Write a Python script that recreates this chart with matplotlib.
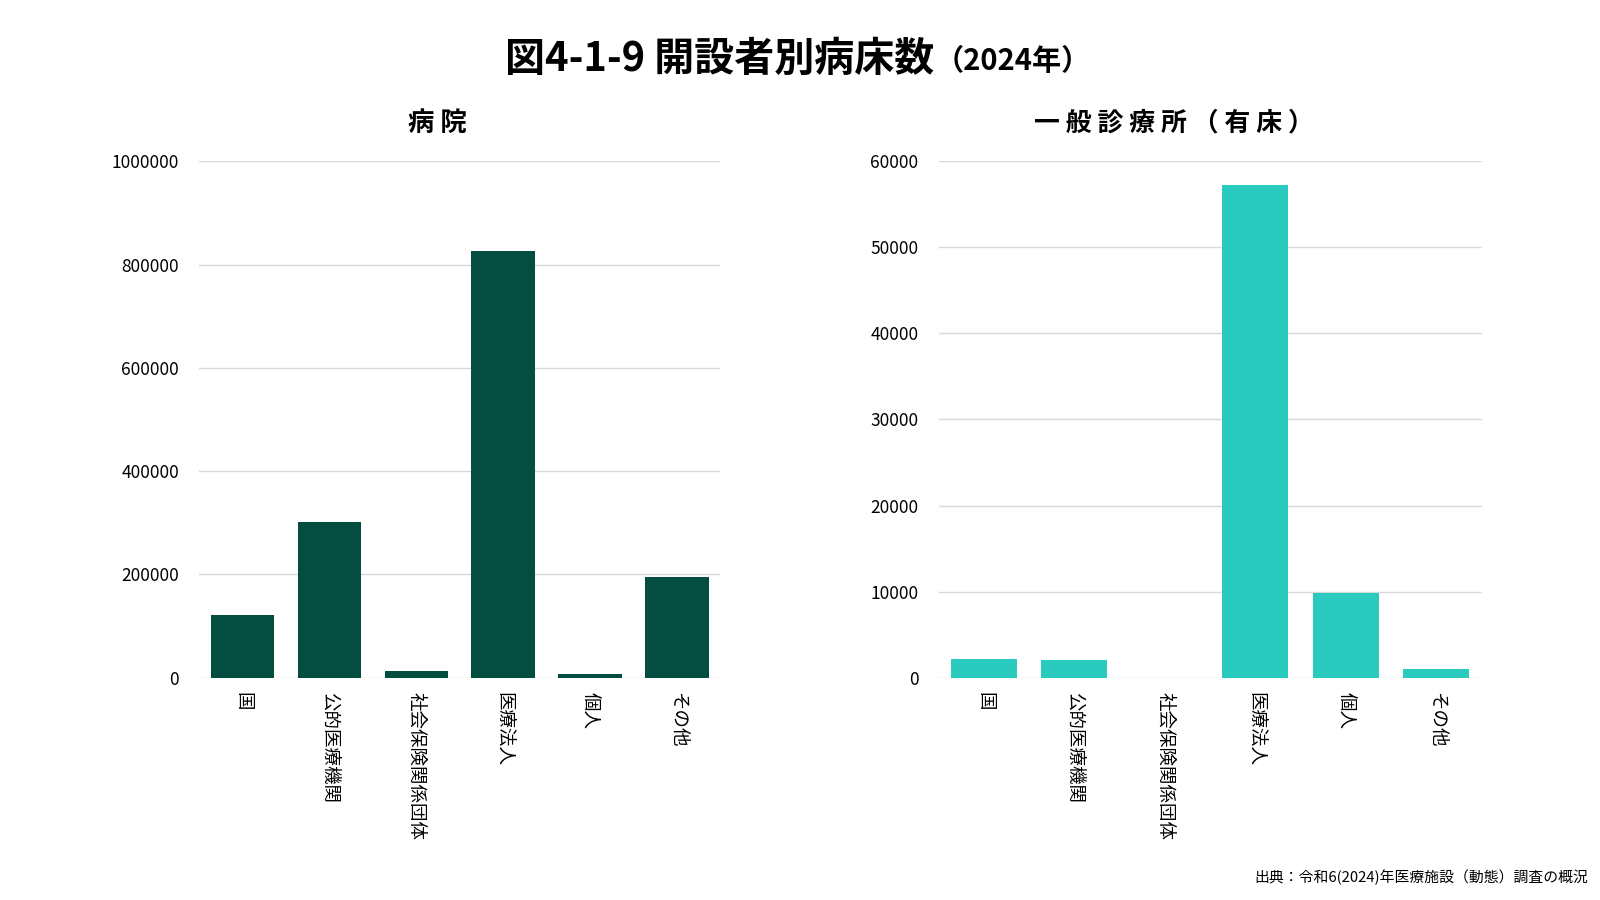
import numpy as np
import matplotlib
matplotlib.use('Agg')
import matplotlib.pyplot as plt

plt.rcParams['font.family'] = ['Noto Sans CJK JP', 'DejaVu Sans']

# data
categories = ['国', '公的医療機関', '社会保険関係団体', '医療法人', '個人', 'その他']
hospital_beds = [120500, 302000, 13500, 826000, 7700, 195600]
clinic_beds = [2200, 2100, 0, 57300, 9850, 1050]

hospital_ticks = [0, 200000, 400000, 600000, 800000, 1000000]
clinic_ticks = [0, 10000, 20000, 30000, 40000, 50000, 60000]

title = '図4-1-9 開設者別病床数'
title_year = '（2024年）'
source = '出典：令和6(2024)年医療施設（動態）調査の概況'

c_hosp = '#034e40'
c_clin = '#2acbbe'

fig = plt.figure(figsize=(16, 9), dpi=100)

def draw(ax, vals, ticks, color):
  x = np.arange(len(categories))
  ax.bar(x, vals, width=0.73, color=color, zorder=3)
  ax.set_xlim(-0.5, len(categories) - 0.5)
  ax.set_ylim(0, ticks[-1])
  ax.set_yticks(ticks)
  ax.set_yticklabels([str(t) for t in ticks], fontsize=12.5)
  ax.set_xticks(x)
  ax.set_xticklabels(categories, rotation=-90, fontsize=13.3, va='top')
  ax.tick_params(length=0, pad=10)
  ax.tick_params(axis='y', pad=14.5)
  for s in ax.spines.values():
    s.set_visible(False)
  ax.grid(True, axis='y', color='#d9d9d9', linewidth=1, zorder=0)
  ax.set_axisbelow(True)

ax1 = fig.add_axes([0.1244, 0.247, 0.3258, 0.5738])
draw(ax1, hospital_beds, hospital_ticks, c_hosp)

ax2 = fig.add_axes([0.5867, 0.247, 0.3393, 0.5738])
draw(ax2, clinic_beds, clinic_ticks, c_clin)

# panel titles (letter-spaced like the original)
fig.text(0.2735, 0.863, '病 院', ha='center', va='center', fontsize=19, fontweight='bold')
fig.text(0.7335, 0.863, '一 般 診 療 所 （ 有 床 ）', ha='center', va='center', fontsize=18.6, fontweight='bold')

fig.text(0.584, 0.934, title, ha='right', va='center', fontsize=28.8, fontweight='bold')
fig.text(0.584, 0.932, title_year, ha='left', va='center', fontsize=21, fontweight='bold')
fig.text(0.9925, 0.025, source, ha='right', va='center', fontsize=10.7)

fig.savefig('out.png', dpi=100)
